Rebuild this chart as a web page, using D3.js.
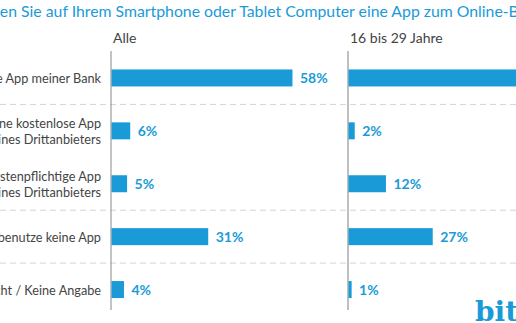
<!DOCTYPE html>
<html>
<head>
<meta charset="utf-8">
<script src="https://cdn.jsdelivr.net/npm/d3@7"></script>
<style>
  body { margin: 0; background: #fff; overflow: hidden; }
  svg { display: block; font-family: Lato, sans-serif; }
</style>
</head>
<body>
<div id="chart"></div>
<script>
const title = "Nutzen Sie auf Ihrem Smartphone oder Tablet Computer eine App zum Online-Banking?";
const categories = [
  "Ja, die  App meiner Bank",
  "Ja, eine kostenlose App\neines Drittanbieters",
  "Ja, eine kostenpflichtige App\neines Drittanbieters",
  "Nein, ich benutze keine App",
  "Weiß nicht / Keine Angabe"
];
const panels = ["Alle", "16 bis 29 Jahre"];
const valuesAlle = [58, 6, 5, 31, 4];
const values1629 = [61, 2, 12, 27, 1];
const groupStarts = [1, 3, 4]; // a dashed rule sits above these rows

const width = 516, height = 323;
const blue = "#1a9bd7";

const svg = d3.select("#chart").append("svg")
  .attr("width", width)
  .attr("height", height);

// title, cropped on the left like the source image
const titleSize = 15.8;
const tmp = svg.append("text").attr("font-size", titleSize).text("Nutz");
const cut = tmp.node().getComputedTextLength();
tmp.remove();
svg.append("text")
  .attr("x", -cut)
  .attr("y", 17)
  .attr("font-size", titleSize)
  .attr("fill", blue)
  .text(title);

const y = d3.scalePoint()
  .domain(categories)
  .range([51.5, 316])
  .padding(0.5);
const step = y.step();
const barH = 17;

const x = d3.scaleLinear().domain([0, 100]).range([0, 312]);
const panelX = [111, 348];
const series = [valuesAlle, values1629];

// dashed separators
svg.selectAll(".sep")
  .data(groupStarts)
  .join("line")
  .attr("x1", 0)
  .attr("x2", width)
  .attr("y1", i => y(categories[i]) - step / 2)
  .attr("y2", i => y(categories[i]) - step / 2)
  .attr("stroke", "#d4d4d4")
  .attr("stroke-dasharray", "6,4");

// category labels
const lab = svg.selectAll(".cat")
  .data(categories)
  .join("text")
  .attr("class", "cat")
  .attr("text-anchor", "end")
  .attr("font-size", 12.7)
  .attr("fill", "#444");
lab.each(function(d) {
  const lines = d.split("\n");
  const t = d3.select(this);
  lines.forEach((l, k) => {
    t.append("tspan")
      .attr("x", 101)
      .attr("y", y(d) + 5 + (k - (lines.length - 1) / 2) * 15.5)
      .text(l);
  });
});

panels.forEach((p, pi) => {
  const g = svg.append("g").attr("transform", `translate(${panelX[pi]},0)`);

  g.append("text")
    .attr("x", 2)
    .attr("y", 43)
    .attr("font-size", 14)
    .attr("fill", "#444")
    .text(p);

  g.append("line")
    .attr("x1", 0).attr("x2", 0)
    .attr("y1", 51).attr("y2", 310)
    .attr("stroke", pi === 0 ? "#888" : "#aaa")
    .attr("stroke-width", pi === 0 ? 1 : 1.5);

  g.selectAll(".bar")
    .data(series[pi])
    .join("rect")
    .attr("x", 0.5)
    .attr("y", (d, i) => y(categories[i]) - barH / 2)
    .attr("width", d => x(d))
    .attr("height", barH)
    .attr("fill", blue);

  g.selectAll(".val")
    .data(series[pi])
    .join("text")
    .attr("x", d => x(d) + 8)
    .attr("y", (d, i) => y(categories[i]) + 5)
    .attr("font-size", 14)
    .attr("font-weight", "bold")
    .attr("fill", blue)
    .text(d => d + "%");
});

// logo
const logo = svg.append("text")
  .attr("x", 475)
  .attr("y", 321)
  .attr("font-family", "DejaVu Serif, serif")
  .attr("font-weight", "bold")
  .attr("font-size", 28);
logo.append("tspan").attr("fill", blue).text("bit");
logo.append("tspan").attr("fill", "#555").text("kom");
</script>
</body>
</html>
